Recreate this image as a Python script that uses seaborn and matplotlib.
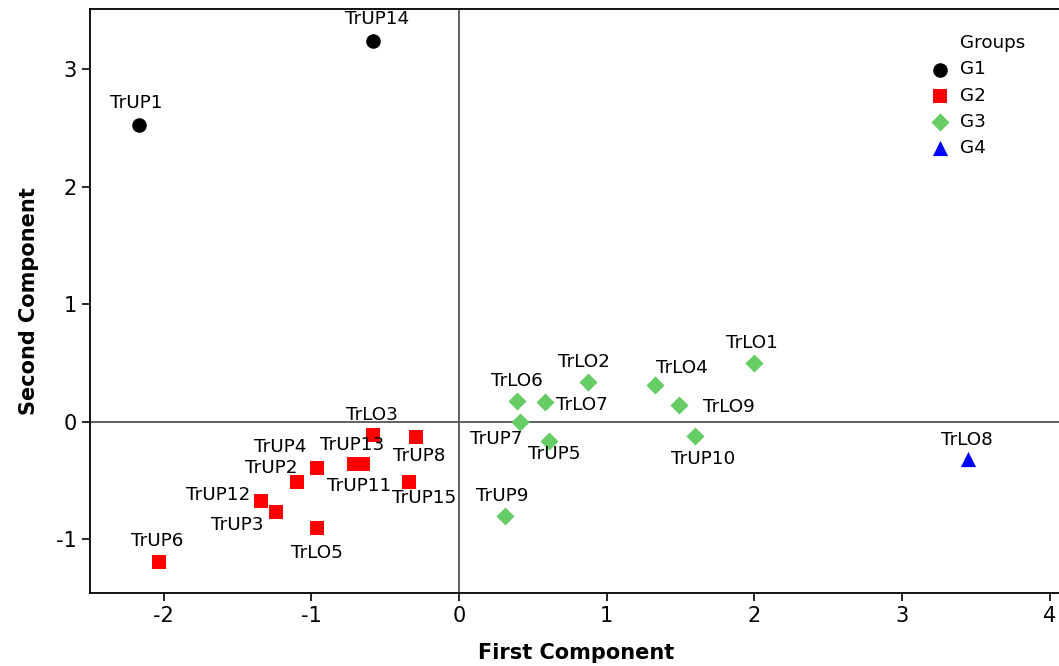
import pandas as pd
import matplotlib.pyplot as plt
import seaborn as sns
from matplotlib.lines import Line2D

# Sample names, scores on the first two components and group membership
names = ['TrUP14', 'TrUP1',
         'TrUP6', 'TrUP12', 'TrUP3', 'TrUP2', 'TrUP4', 'TrLO5', 'TrUP13',
         'TrUP11', 'TrLO3', 'TrUP8', 'TrUP15',
         'TrLO6', 'TrLO7', 'TrUP7', 'TrUP5', 'TrLO2', 'TrLO4', 'TrLO9',
         'TrLO1', 'TrUP10', 'TrUP9',
         'TrLO8']
pc1 = [-0.58, -2.17,
       -2.03, -1.34, -1.24, -1.10, -0.96, -0.96, -0.71,
       -0.65, -0.58, -0.29, -0.34,
       0.39, 0.58, 0.41, 0.61, 0.87, 1.33, 1.49,
       2.00, 1.60, 0.31,
       3.45]
pc2 = [3.24, 2.52,
       -1.19, -0.67, -0.77, -0.51, -0.39, -0.90, -0.36,
       -0.36, -0.11, -0.13, -0.51,
       0.18, 0.17, 0.00, -0.16, 0.34, 0.31, 0.14,
       0.50, -0.12, -0.80,
       -0.32]
groups = ['G1'] * 2 + ['G2'] * 11 + ['G3'] * 10 + ['G4']

df = pd.DataFrame({'name': names, 'pc1': pc1, 'pc2': pc2, 'group': groups})

# label offsets in pixels relative to each point (layout only)
offsets = {
    'TrUP14': (4, 22), 'TrUP1': (-2, 22), 'TrUP6': (-2, 21),
    'TrUP12': (-43, 6), 'TrUP3': (-39, -13), 'TrUP2': (-25, 14),
    'TrUP4': (-37, 21), 'TrLO5': (0, -25), 'TrUP13': (-2, 19),
    'TrUP11': (-4, -22), 'TrLO3': (-2, 20), 'TrUP8': (3, -19),
    'TrUP15': (15, -16), 'TrLO6': (0, 20), 'TrLO7': (37, -3),
    'TrUP7': (-23, -17), 'TrUP5': (5, -13), 'TrLO2': (-4, 20),
    'TrLO4': (26, 17), 'TrLO9': (50, -2), 'TrLO1': (-2, 20),
    'TrUP10': (8, -23), 'TrUP9': (-3, 20), 'TrLO8': (-2, 19),
}

sns.set_style('ticks')
plt.rcParams['font.family'] = ['DejaVu Sans']
plt.rcParams['axes.unicode_minus'] = False
plt.rcParams['text.color'] = 'black'
plt.rcParams['axes.labelcolor'] = 'black'
plt.rcParams['xtick.color'] = 'black'
plt.rcParams['ytick.color'] = 'black'
plt.rcParams['axes.edgecolor'] = 'black'

fig = plt.figure(figsize=(10.59, 6.66), dpi=100)
ax = fig.add_axes([0.085, 0.1096, 0.918, 0.877])

palette = {'G1': 'black', 'G2': '#ff0000', 'G3': '#66cc66', 'G4': '#0000ff'}
markers = {'G1': 'o', 'G2': 's', 'G3': 'D', 'G4': '^'}
sizes = {'G1': 110, 'G2': 100, 'G3': 85, 'G4': 120}

for g in ['G1', 'G2', 'G3', 'G4']:
    sub = df[df['group'] == g]
    sns.scatterplot(data=sub, x='pc1', y='pc2', color=palette[g],
                    marker=markers[g], s=sizes[g], linewidth=0,
                    label=g, ax=ax, zorder=3)

ax.axhline(0, color='#555555', lw=1.3, zorder=1)
ax.axvline(0, color='#555555', lw=1.3, zorder=1)

for _, row in df.iterrows():
    dx, dy = offsets[row['name']]
    ax.annotate(row['name'], (row['pc1'], row['pc2']), xytext=(dx, dy),
                textcoords='offset pixels', ha='center', va='center',
                fontsize=13.2, color='black')

ax.set_xlim(-2.5, 4.085)
ax.set_ylim(-1.455, 3.51)
ax.set_xticks([-2, -1, 0, 1, 2, 3, 4])
ax.set_yticks([-1, 0, 1, 2, 3])
ax.tick_params(labelsize=15, length=6, width=1.2)
for sp in ax.spines.values():
    sp.set_linewidth(1.3)
ax.set_xlabel('First Component', fontsize=15, fontweight='bold', labelpad=12)
ax.set_ylabel('Second Component', fontsize=15, fontweight='bold', labelpad=12)

handles, labels = ax.get_legend_handles_labels()
blank = Line2D([], [], linestyle='none', marker='')
leg = ax.legend([blank] + handles, ['Groups'] + labels, frameon=False,
                loc='upper left', bbox_to_anchor=(0.847, 0.985),
                fontsize=13.2, labelspacing=0.45, handletextpad=0.55,
                handlelength=1.1)

plt.savefig('out.png', dpi=100)
plt.close()
